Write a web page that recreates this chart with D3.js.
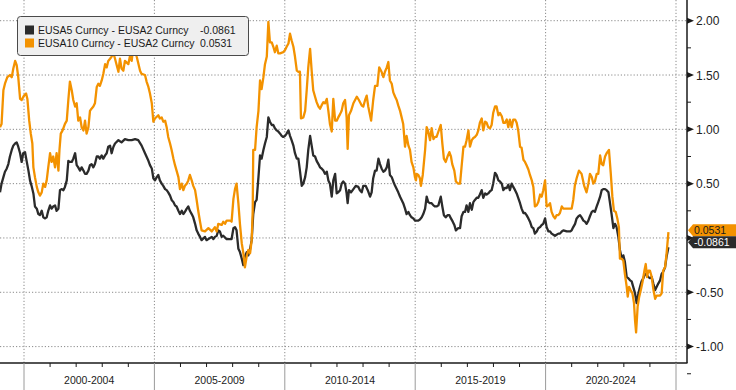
<!DOCTYPE html>
<html lang="en">
<head>
<meta charset="UTF-8">
<title>EUSA curve spreads</title>
<script src="https://d3js.org/d3.v7.min.js"></script>
<style>
    body { margin: 0; background: #fff; }
    svg { display: block; }
    text { font-family: "Liberation Sans", Arial, sans-serif; }
</style>
</head>
<body>
<script>
    const width = 736;
    const height = 390;

    // [decimal year, spread in %]
    const eusa5 = [[1999.08,0.42],[1999.14,0.50],[1999.21,0.56],[1999.27,0.61],[1999.34,0.64],[1999.40,0.68],[1999.46,0.75],[1999.53,0.81],[1999.59,0.85],[1999.66,0.87],[1999.72,0.88],[1999.78,0.84],[1999.85,0.78],[1999.91,0.70],[1999.97,0.78],[2000.04,0.79],[2000.10,0.71],[2000.17,0.62],[2000.23,0.53],[2000.29,0.48],[2000.36,0.41],[2000.42,0.29],[2000.49,0.27],[2000.55,0.22],[2000.61,0.21],[2000.68,0.25],[2000.74,0.19],[2000.81,0.18],[2000.87,0.19],[2000.93,0.25],[2001.00,0.30],[2001.06,0.27],[2001.12,0.29],[2001.19,0.30],[2001.25,0.25],[2001.32,0.27],[2001.38,0.44],[2001.44,0.45],[2001.51,0.44],[2001.57,0.47],[2001.64,0.53],[2001.70,0.71],[2001.76,0.70],[2001.83,0.70],[2001.89,0.73],[2001.96,0.78],[2002.02,0.67],[2002.08,0.65],[2002.15,0.62],[2002.21,0.65],[2002.28,0.62],[2002.34,0.59],[2002.40,0.59],[2002.47,0.62],[2002.53,0.67],[2002.59,0.68],[2002.66,0.65],[2002.72,0.68],[2002.79,0.75],[2002.85,0.75],[2002.91,0.73],[2002.98,0.76],[2003.04,0.73],[2003.11,0.76],[2003.17,0.78],[2003.23,0.84],[2003.30,0.85],[2003.36,0.78],[2003.43,0.84],[2003.49,0.87],[2003.62,0.90],[2003.74,0.88],[2003.87,0.91],[2004.00,0.90],[2004.13,0.90],[2004.26,0.91],[2004.38,0.90],[2004.51,0.85],[2004.64,0.78],[2004.77,0.71],[2004.83,0.67],[2004.90,0.64],[2004.96,0.55],[2005.02,0.53],[2005.09,0.56],[2005.15,0.58],[2005.21,0.53],[2005.28,0.50],[2005.34,0.48],[2005.41,0.45],[2005.47,0.44],[2005.53,0.42],[2005.60,0.39],[2005.66,0.35],[2005.73,0.33],[2005.79,0.30],[2005.85,0.29],[2005.92,0.25],[2005.98,0.22],[2006.05,0.25],[2006.11,0.22],[2006.17,0.24],[2006.24,0.27],[2006.30,0.29],[2006.36,0.25],[2006.43,0.22],[2006.49,0.19],[2006.56,0.13],[2006.62,0.07],[2006.68,0.04],[2006.75,0.01],[2006.81,-0.02],[2006.94,0.01],[2007.00,-0.02],[2007.07,-0.01],[2007.20,0.01],[2007.26,-0.01],[2007.32,0.01],[2007.39,0.02],[2007.45,0.07],[2007.51,0.06],[2007.58,0.01],[2007.64,0.02],[2007.77,-0.01],[2007.90,-0.01],[2007.96,-0.01],[2008.03,0.09],[2008.09,0.10],[2008.15,0.07],[2008.22,-0.10],[2008.28,-0.13],[2008.35,-0.19],[2008.41,-0.25],[2008.47,-0.17],[2008.54,-0.13],[2008.60,-0.16],[2008.67,-0.10],[2008.73,-0.02],[2008.79,0.22],[2008.86,0.33],[2008.92,0.35],[2008.99,0.56],[2009.05,0.76],[2009.11,0.73],[2009.18,0.81],[2009.24,0.87],[2009.31,0.93],[2009.37,1.11],[2009.43,1.07],[2009.50,1.04],[2009.56,1.04],[2009.62,1.01],[2009.69,0.99],[2009.75,0.98],[2009.82,0.96],[2009.88,0.94],[2009.94,0.93],[2010.01,0.94],[2010.07,0.96],[2010.14,0.99],[2010.20,0.94],[2010.26,0.90],[2010.33,0.85],[2010.39,0.78],[2010.46,0.73],[2010.52,0.73],[2010.58,0.62],[2010.65,0.48],[2010.71,0.50],[2010.78,0.56],[2010.84,0.65],[2010.90,0.81],[2010.97,0.94],[2011.03,0.85],[2011.09,0.76],[2011.16,0.75],[2011.22,0.71],[2011.29,0.68],[2011.35,0.65],[2011.41,0.64],[2011.48,0.62],[2011.54,0.59],[2011.61,0.61],[2011.67,0.53],[2011.73,0.50],[2011.80,0.38],[2011.86,0.53],[2011.93,0.59],[2011.99,0.41],[2012.05,0.42],[2012.12,0.44],[2012.18,0.50],[2012.24,0.52],[2012.31,0.50],[2012.37,0.41],[2012.41,0.32],[2012.46,0.44],[2012.54,0.42],[2012.63,0.45],[2012.72,0.48],[2012.82,0.47],[2012.88,0.44],[2012.95,0.42],[2013.01,0.48],[2013.10,0.48],[2013.18,0.44],[2013.27,0.38],[2013.33,0.42],[2013.39,0.55],[2013.46,0.62],[2013.52,0.62],[2013.59,0.73],[2013.65,0.68],[2013.71,0.64],[2013.78,0.61],[2013.84,0.62],[2013.91,0.65],[2013.97,0.72],[2014.03,0.58],[2014.10,0.56],[2014.16,0.52],[2014.23,0.48],[2014.29,0.45],[2014.35,0.42],[2014.42,0.38],[2014.48,0.35],[2014.54,0.32],[2014.61,0.27],[2014.67,0.22],[2014.74,0.24],[2014.80,0.21],[2014.86,0.19],[2014.93,0.18],[2014.99,0.16],[2015.06,0.16],[2015.12,0.16],[2015.18,0.17],[2015.25,0.19],[2015.31,0.22],[2015.38,0.27],[2015.44,0.38],[2015.50,0.33],[2015.57,0.32],[2015.63,0.32],[2015.70,0.30],[2015.76,0.29],[2015.82,0.29],[2015.89,0.30],[2015.98,0.38],[2016.04,0.29],[2016.10,0.21],[2016.17,0.19],[2016.24,0.21],[2016.31,0.21],[2016.37,0.18],[2016.44,0.15],[2016.50,0.12],[2016.56,0.07],[2016.65,0.09],[2016.72,0.09],[2016.78,0.20],[2016.85,0.24],[2016.91,0.24],[2016.97,0.30],[2017.04,0.24],[2017.10,0.32],[2017.17,0.26],[2017.23,0.33],[2017.29,0.35],[2017.36,0.37],[2017.42,0.37],[2017.48,0.40],[2017.55,0.44],[2017.61,0.37],[2017.68,0.41],[2017.74,0.40],[2017.80,0.41],[2017.87,0.43],[2017.93,0.44],[2017.99,0.50],[2018.06,0.60],[2018.12,0.58],[2018.19,0.53],[2018.25,0.52],[2018.32,0.50],[2018.38,0.44],[2018.44,0.46],[2018.51,0.46],[2018.57,0.49],[2018.63,0.44],[2018.70,0.50],[2018.76,0.47],[2018.83,0.44],[2018.89,0.41],[2018.95,0.37],[2019.02,0.32],[2019.08,0.27],[2019.15,0.23],[2019.21,0.23],[2019.27,0.21],[2019.34,0.18],[2019.40,0.15],[2019.47,0.10],[2019.53,0.09],[2019.59,0.04],[2019.66,0.06],[2019.72,0.09],[2019.79,0.10],[2019.85,0.12],[2019.91,0.13],[2019.98,0.18],[2020.04,0.10],[2020.11,0.06],[2020.17,0.06],[2020.23,0.04],[2020.30,0.03],[2020.36,0.02],[2020.42,0.03],[2020.49,0.04],[2020.55,0.04],[2020.62,0.06],[2020.68,0.07],[2020.81,0.06],[2020.94,0.06],[2021.00,0.07],[2021.06,0.10],[2021.13,0.13],[2021.19,0.18],[2021.26,0.20],[2021.32,0.21],[2021.38,0.19],[2021.45,0.16],[2021.51,0.15],[2021.57,0.13],[2021.64,0.16],[2021.70,0.20],[2021.77,0.24],[2021.83,0.25],[2021.89,0.24],[2021.96,0.29],[2022.02,0.33],[2022.09,0.38],[2022.15,0.44],[2022.21,0.45],[2022.28,0.45],[2022.34,0.44],[2022.41,0.42],[2022.47,0.32],[2022.53,0.22],[2022.60,0.09],[2022.66,0.13],[2022.72,0.10],[2022.79,0.01],[2022.85,-0.11],[2022.92,-0.19],[2022.98,-0.16],[2023.04,-0.22],[2023.11,-0.36],[2023.17,-0.37],[2023.24,-0.39],[2023.30,-0.40],[2023.36,-0.45],[2023.43,-0.51],[2023.49,-0.60],[2023.56,-0.51],[2023.62,-0.45],[2023.68,-0.40],[2023.75,-0.37],[2023.81,-0.33],[2023.88,-0.34],[2023.94,-0.36],[2024.00,-0.37],[2024.07,-0.36],[2024.13,-0.42],[2024.20,-0.48],[2024.26,-0.45],[2024.32,-0.42],[2024.39,-0.39],[2024.45,-0.33],[2024.51,-0.31],[2024.58,-0.27],[2024.64,-0.17],[2024.71,-0.0861]];

    const eusa10 = [[1999.08,1.02],[1999.14,1.05],[1999.21,1.36],[1999.27,1.42],[1999.36,1.48],[1999.46,1.50],[1999.53,1.48],[1999.59,1.56],[1999.66,1.63],[1999.72,1.59],[1999.78,1.48],[1999.85,1.28],[1999.91,1.27],[2000.00,1.31],[2000.08,1.33],[2000.13,1.28],[2000.20,1.08],[2000.26,0.96],[2000.32,0.87],[2000.36,0.65],[2000.42,0.56],[2000.49,0.47],[2000.55,0.42],[2000.61,0.39],[2000.68,0.42],[2000.74,0.50],[2000.81,0.47],[2000.87,0.53],[2000.93,0.65],[2001.00,0.78],[2001.06,0.70],[2001.12,0.75],[2001.19,0.65],[2001.25,0.78],[2001.32,0.62],[2001.36,0.81],[2001.41,0.96],[2001.48,0.99],[2001.57,1.05],[2001.64,1.08],[2001.70,1.27],[2001.76,1.44],[2001.83,1.36],[2001.89,1.27],[2001.96,1.21],[2002.02,1.24],[2002.08,1.08],[2002.15,1.11],[2002.21,1.02],[2002.28,0.99],[2002.34,1.08],[2002.40,0.96],[2002.47,1.02],[2002.53,1.17],[2002.59,1.19],[2002.66,1.21],[2002.72,1.24],[2002.79,1.39],[2002.85,1.42],[2002.91,1.40],[2002.98,1.45],[2003.04,1.51],[2003.11,1.60],[2003.17,1.57],[2003.23,1.63],[2003.30,1.65],[2003.36,1.67],[2003.43,1.70],[2003.49,1.65],[2003.62,1.53],[2003.68,1.65],[2003.74,1.56],[2003.81,1.54],[2003.87,1.63],[2004.00,1.60],[2004.06,1.67],[2004.13,1.63],[2004.19,1.76],[2004.26,1.74],[2004.32,1.67],[2004.45,1.54],[2004.51,1.51],[2004.64,1.50],[2004.70,1.44],[2004.77,1.39],[2004.83,1.33],[2004.90,1.24],[2004.96,1.07],[2005.02,1.10],[2005.15,1.13],[2005.21,1.10],[2005.28,1.11],[2005.34,1.07],[2005.41,1.08],[2005.47,1.02],[2005.53,0.93],[2005.60,0.87],[2005.66,0.81],[2005.73,0.73],[2005.79,0.67],[2005.85,0.62],[2005.92,0.56],[2005.98,0.45],[2006.05,0.50],[2006.11,0.44],[2006.17,0.48],[2006.24,0.50],[2006.30,0.53],[2006.36,0.58],[2006.43,0.53],[2006.49,0.48],[2006.56,0.44],[2006.62,0.35],[2006.68,0.25],[2006.75,0.15],[2006.81,0.07],[2006.94,0.06],[2007.07,0.09],[2007.20,0.06],[2007.32,0.10],[2007.39,0.06],[2007.45,0.13],[2007.58,0.12],[2007.64,0.15],[2007.71,0.13],[2007.77,0.16],[2007.90,0.16],[2007.96,0.15],[2008.03,0.36],[2008.09,0.45],[2008.15,0.50],[2008.22,0.32],[2008.28,0.13],[2008.35,-0.05],[2008.41,-0.14],[2008.47,-0.27],[2008.54,-0.17],[2008.60,-0.11],[2008.67,-0.14],[2008.73,-0.02],[2008.77,0.25],[2008.79,0.81],[2008.86,0.81],[2008.92,1.02],[2008.99,1.17],[2009.05,1.45],[2009.11,1.37],[2009.18,1.48],[2009.24,1.60],[2009.31,1.67],[2009.37,1.99],[2009.43,1.80],[2009.50,1.80],[2009.56,1.76],[2009.62,1.71],[2009.69,1.77],[2009.75,1.70],[2009.82,1.70],[2009.94,1.71],[2010.01,1.73],[2010.07,1.76],[2010.14,1.79],[2010.20,1.88],[2010.26,1.82],[2010.33,1.76],[2010.39,1.67],[2010.46,1.54],[2010.52,1.53],[2010.58,1.53],[2010.62,1.10],[2010.71,1.11],[2010.78,1.17],[2010.84,1.36],[2010.90,1.57],[2010.97,1.74],[2011.03,1.54],[2011.09,1.36],[2011.16,1.30],[2011.22,1.25],[2011.29,1.21],[2011.35,1.19],[2011.41,1.22],[2011.48,1.25],[2011.54,1.24],[2011.61,1.28],[2011.67,1.17],[2011.73,1.05],[2011.80,0.98],[2011.86,1.28],[2011.93,1.08],[2011.99,1.08],[2012.05,1.11],[2012.12,1.14],[2012.18,1.17],[2012.24,1.24],[2012.31,1.27],[2012.37,1.11],[2012.41,0.82],[2012.46,1.13],[2012.54,1.17],[2012.63,1.24],[2012.76,1.30],[2012.84,1.27],[2012.95,1.22],[2013.01,1.21],[2013.08,1.27],[2013.14,1.31],[2013.20,1.21],[2013.31,1.08],[2013.39,1.27],[2013.46,1.40],[2013.55,1.40],[2013.62,1.57],[2013.71,1.53],[2013.78,1.48],[2013.84,1.53],[2013.91,1.57],[2013.97,1.62],[2014.03,1.45],[2014.10,1.42],[2014.16,1.34],[2014.23,1.30],[2014.29,1.27],[2014.35,1.22],[2014.42,1.17],[2014.48,1.11],[2014.54,1.05],[2014.61,0.84],[2014.67,0.94],[2014.74,0.85],[2014.80,0.81],[2014.86,0.70],[2014.93,0.65],[2014.99,0.56],[2015.03,0.53],[2015.06,0.59],[2015.12,0.58],[2015.18,0.55],[2015.22,0.48],[2015.29,0.58],[2015.38,0.81],[2015.44,1.02],[2015.50,0.98],[2015.57,0.90],[2015.63,1.01],[2015.70,0.91],[2015.76,0.93],[2015.82,0.93],[2015.89,0.98],[2015.98,1.04],[2016.04,0.87],[2016.10,0.73],[2016.17,0.70],[2016.24,0.75],[2016.31,0.79],[2016.37,0.75],[2016.42,0.68],[2016.50,0.62],[2016.56,0.52],[2016.65,0.50],[2016.72,0.50],[2016.78,0.66],[2016.85,0.84],[2016.91,0.84],[2016.97,0.90],[2017.04,0.99],[2017.10,0.84],[2017.17,0.90],[2017.23,0.92],[2017.29,0.93],[2017.36,0.95],[2017.42,0.99],[2017.48,1.06],[2017.55,1.10],[2017.61,0.99],[2017.68,1.07],[2017.74,1.06],[2017.80,1.02],[2017.87,1.01],[2017.93,1.04],[2017.99,1.15],[2018.06,1.21],[2018.12,1.21],[2018.19,1.13],[2018.25,1.15],[2018.32,1.12],[2018.38,1.06],[2018.44,1.06],[2018.51,1.09],[2018.57,1.02],[2018.63,1.09],[2018.70,1.02],[2018.76,1.09],[2018.83,1.09],[2018.89,1.06],[2018.95,0.99],[2019.02,0.84],[2019.08,0.83],[2019.15,0.72],[2019.21,0.70],[2019.27,0.67],[2019.34,0.63],[2019.40,0.58],[2019.47,0.53],[2019.53,0.47],[2019.59,0.29],[2019.66,0.30],[2019.72,0.33],[2019.79,0.40],[2019.85,0.38],[2019.91,0.44],[2019.98,0.53],[2020.04,0.29],[2020.11,0.30],[2020.17,0.32],[2020.23,0.24],[2020.30,0.20],[2020.36,0.18],[2020.42,0.21],[2020.49,0.21],[2020.55,0.23],[2020.62,0.29],[2020.68,0.27],[2020.81,0.27],[2020.94,0.27],[2021.00,0.27],[2021.06,0.35],[2021.12,0.48],[2021.19,0.55],[2021.28,0.62],[2021.38,0.59],[2021.48,0.48],[2021.57,0.42],[2021.64,0.50],[2021.70,0.59],[2021.77,0.56],[2021.83,0.50],[2021.89,0.52],[2021.96,0.59],[2022.02,0.59],[2022.09,0.76],[2022.15,0.68],[2022.21,0.67],[2022.28,0.75],[2022.34,0.78],[2022.43,0.81],[2022.50,0.59],[2022.56,0.38],[2022.62,0.25],[2022.69,0.24],[2022.75,0.18],[2022.81,0.10],[2022.85,-0.19],[2022.92,-0.19],[2022.98,-0.21],[2023.04,-0.33],[2023.11,-0.45],[2023.15,-0.54],[2023.20,-0.45],[2023.26,-0.48],[2023.33,-0.51],[2023.39,-0.60],[2023.43,-0.76],[2023.47,-0.87],[2023.53,-0.63],[2023.59,-0.54],[2023.66,-0.47],[2023.72,-0.40],[2023.79,-0.30],[2023.84,-0.24],[2023.89,-0.36],[2023.94,-0.30],[2024.00,-0.30],[2024.07,-0.36],[2024.13,-0.47],[2024.20,-0.56],[2024.26,-0.53],[2024.32,-0.53],[2024.39,-0.53],[2024.45,-0.51],[2024.51,-0.30],[2024.58,-0.27],[2024.64,-0.14],[2024.71,0.0531]];

    const seriesNames = ["EUSA5 Curncy - EUSA2 Curncy", "EUSA10 Curncy - EUSA2 Curncy"];
    const lastValues = ["-0.0861", "0.0531"];
    const colors = ["#2b2b2b", "#f39200"];
    const yMajor = [-1, -0.5, 0, 0.5, 1, 1.5, 2];
    const yMinor = [-1.25, -0.75, -0.25, 0.25, 0.75, 1.25, 1.75, 2.25];
    const periodStarts = [2000, 2005, 2010, 2015, 2020, 2025];
    const periodLabels = ["2000-2004", "2005-2009", "2010-2014", "2015-2019", "2020-2024"];
    const years = d3.range(1999, 2026);

    const plotRight = 687;
    const plotBottom = 363;

    const svg = d3.select("body").append("svg")
        .attr("width", width).attr("height", height);

    const x = d3.scaleLinear().domain([2000, 2025]).range([24, 676]);
    const y = d3.scaleLinear().domain([-1, 2]).range([346.6, 20.7]);

    // grid
    svg.append("g").selectAll("line").data(yMajor).enter().append("line")
        .attr("x1", 0).attr("x2", plotRight)
        .attr("y1", d => y(d)).attr("y2", d => y(d))
        .attr("stroke", "#8a8a8a").attr("stroke-dasharray", "1.2,2");
    svg.append("g").selectAll("line").data(periodStarts).enter().append("line")
        .attr("x1", d => x(d)).attr("x2", d => x(d))
        .attr("y1", 0).attr("y2", plotBottom)
        .attr("stroke", "#8a8a8a").attr("stroke-dasharray", "1.2,2");

    // lines
    const line = d3.line().x(d => x(d[0])).y(d => y(d[1]));
    [eusa5, eusa10].forEach(function(s, i) {
        svg.append("path")
            .datum(s)
            .attr("fill", "none")
            .attr("stroke", colors[i])
            .attr("stroke-width", 2.3)
            .attr("stroke-linejoin", "round")
            .attr("d", line);
    });

    // frame
    svg.append("line").attr("x1", 0).attr("x2", plotRight + 0.5)
        .attr("y1", plotBottom).attr("y2", plotBottom)
        .attr("stroke", "#1a1a1a").attr("stroke-width", 1.5);
    svg.append("line").attr("x1", plotRight).attr("x2", plotRight)
        .attr("y1", 0).attr("y2", plotBottom)
        .attr("stroke", "#1a1a1a").attr("stroke-width", 1.5);

    // bottom axis: year ticks and period separators
    svg.append("g").selectAll("line").data(years.filter(d => d % 5 !== 0)).enter().append("line")
        .attr("x1", d => x(d)).attr("x2", d => x(d))
        .attr("y1", plotBottom).attr("y2", plotBottom + 4)
        .attr("stroke", "#1a1a1a");
    svg.append("g").selectAll("line").data(periodStarts).enter().append("line")
        .attr("x1", d => x(d)).attr("x2", d => x(d))
        .attr("y1", plotBottom).attr("y2", height)
        .attr("stroke", "#9a9a9a");
    svg.append("g").selectAll("text").data(periodLabels).enter().append("text")
        .attr("x", (d, i) => (x(periodStarts[i]) + x(periodStarts[i + 1])) / 2)
        .attr("y", 384)
        .attr("text-anchor", "middle")
        .attr("font-size", 10.5)
        .attr("fill", "#222")
        .text(d => d);

    // last value tag positions (orange on top, black stacked just below)
    const tagOrange = y(+lastValues[1]) - 2;
    const tagBlack = Math.max(y(+lastValues[0]) - 5, tagOrange + 12);

    // right axis
    svg.append("g").selectAll("path").data(yMajor).enter().append("path")
        .attr("d", d => `M${plotRight},${y(d) - 3}L${plotRight + 7},${y(d)}L${plotRight},${y(d) + 3}Z`)
        .attr("fill", "#1a1a1a");
    svg.append("g").selectAll("line").data(yMinor).enter().append("line")
        .attr("x1", plotRight).attr("x2", plotRight + 4)
        .attr("y1", d => y(d)).attr("y2", d => y(d))
        .attr("stroke", "#1a1a1a");
    // labels hidden behind the value tags are skipped
    svg.append("g").selectAll("text")
        .data(yMajor.filter(d => y(d) < tagOrange - 12 || y(d) > tagBlack + 12))
        .enter().append("text")
        .attr("x", 696)
        .attr("y", d => y(d) + 4.5)
        .attr("font-size", 12)
        .attr("fill", "#222")
        .text(d => d.toFixed(2));

    const tags = [
        {c: tagOrange, fill: colors[1], text: lastValues[1], color: "#1a1a1a"},
        {c: tagBlack, fill: colors[0], text: lastValues[0], color: "#fff"}
    ];
    tags.forEach(function(t) {
        svg.append("path")
            .attr("d", `M${plotRight + 1},${t.c}L${plotRight + 6},${t.c - 6}L${width},${t.c - 6}L${width},${t.c + 6}L${plotRight + 6},${t.c + 6}Z`)
            .attr("fill", t.fill);
        svg.append("text")
            .attr("x", 694).attr("y", t.c + 3.6)
            .attr("font-size", 10.5)
            .attr("fill", t.color)
            .text(t.text);
    });

    // legend
    const legend = svg.append("g");
    legend.append("rect")
        .attr("x", 17.5).attr("y", 16.5).attr("width", 231).attr("height", 39).attr("rx", 3)
        .attr("fill", "#efefef").attr("stroke", "#4a4a4a");
    seriesNames.forEach(function(name, i) {
        const cy = 30 + i * 13;
        legend.append("rect")
            .attr("x", 25).attr("y", cy - 4.5).attr("width", 9).attr("height", 9)
            .attr("fill", colors[i]);
        legend.append("text")
            .attr("x", 38).attr("y", cy + 4)
            .attr("font-size", 10.5).attr("fill", "#1a1a1a")
            .text(name);
        legend.append("text")
            .attr("x", 200).attr("y", cy + 4)
            .attr("font-size", 10.5).attr("fill", "#1a1a1a")
            .text(lastValues[i]);
    });
</script>
</body>
</html>
